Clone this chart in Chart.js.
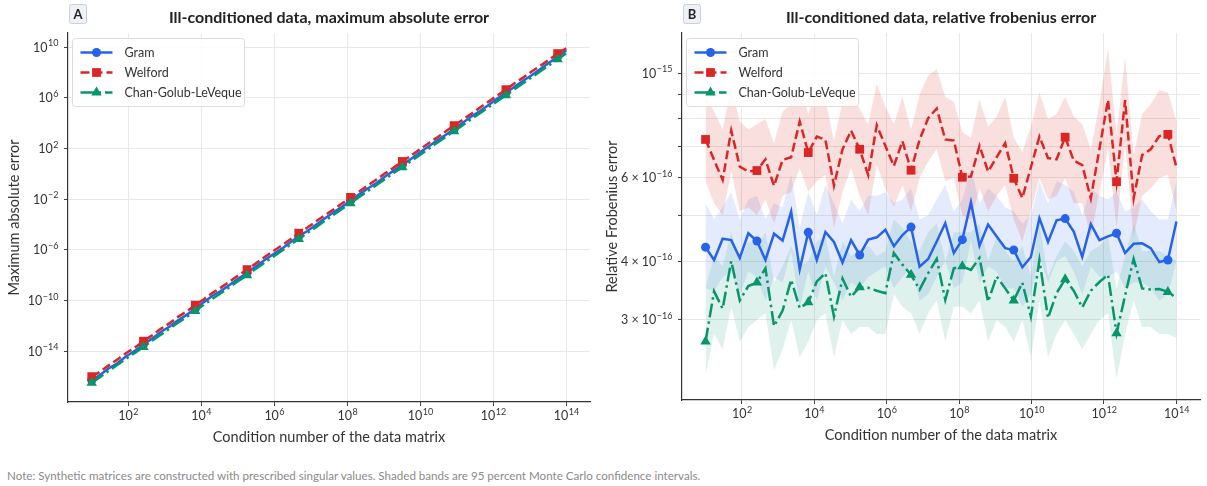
<!DOCTYPE html>
<html>
<head>
<meta charset="utf-8">
<script src="https://cdn.jsdelivr.net/npm/chart.js@4.4.1/dist/chart.umd.min.js"></script>
<style>
  body { margin: 0; background: #fff; width: 1207px; height: 486px; overflow: hidden; font-family: Lato, sans-serif; }
  #wrapA { position: absolute; left: 0; top: 0; width: 600px; height: 460px; }
  #wrapB { position: absolute; left: 600px; top: 0; width: 607px; height: 460px; }
  .note { position: absolute; left: 7px; top: 469px; font-size: 11.6px; color: #8a8a8a; }
</style>
</head>
<body>
<div id="wrapA"><canvas id="chartA"></canvas></div>
<div id="wrapB"><canvas id="chartB"></canvas></div>
<div class="note">Note: Synthetic matrices are constructed with prescribed singular values. Shaded bands are 95 percent Monte Carlo confidence intervals.</div>
<script>
// condition numbers (x, log-spaced 10^1 .. 10^14)
var condNumber = [1.00e1, 1.72e1, 2.97e1, 5.12e1, 8.82e1, 1.52e2, 2.62e2, 4.51e2, 7.78e2, 1.34e3,
  2.31e3, 3.98e3, 6.86e3, 1.18e4, 2.04e4, 3.51e4, 6.05e4, 1.04e5, 1.80e5, 3.10e5,
  5.34e5, 9.20e5, 1.58e6, 2.73e6, 4.71e6, 8.11e6, 1.40e7, 2.41e7, 4.15e7, 7.15e7,
  1.23e8, 2.12e8, 3.66e8, 6.31e8, 1.09e9, 1.87e9, 3.23e9, 5.57e9, 9.59e9, 1.65e10,
  2.85e10, 4.91e10, 8.46e10, 1.46e11, 2.51e11, 4.33e11, 7.46e11, 1.29e12, 2.22e12, 3.82e12,
  6.58e12, 1.13e13, 1.95e13, 3.37e13, 5.80e13, 1.00e14];

// panel A: maximum absolute error
var gramMaxAbs = [5.2e-17, 1.4e-16, 4.6e-16, 1.2e-15, 4.1e-15, 1.1e-14, 3.6e-14, 1.0e-13, 3.3e-13, 8.6e-13,
  2.8e-12, 7.5e-12, 2.3e-11, 7.6e-11, 2.4e-10, 5.9e-10, 1.8e-9, 5.6e-9, 1.5e-8, 5.0e-8,
  1.5e-7, 4.4e-7, 1.2e-6, 3.8e-6, 1.2e-5, 3.1e-5, 9.5e-5, 3.0e-4, 8.9e-4, 2.5e-3,
  7.4e-3, 2.4e-2, 6.9e-2, 0.19, 0.62, 1.8, 5.0, 15, 48, 140,
  420, 1150, 3500, 1.1e4, 3.3e4, 9.0e4, 2.7e5, 8.6e5, 2.4e6, 7.6e6,
  2.2e7, 6.1e7, 1.9e8, 5.9e8, 1.7e9, 5.6e9];
var welfordMaxAbs = [1.0e-16, 2.5e-16, 8.1e-16, 2.3e-15, 7.4e-15, 2.0e-14, 6.3e-14, 1.8e-13, 5.9e-13, 1.6e-12,
  5.2e-12, 1.4e-11, 4.4e-11, 1.3e-10, 4.1e-10, 1.1e-9, 3.2e-9, 1.0e-8, 2.8e-8, 8.6e-8,
  2.6e-7, 7.9e-7, 2.2e-6, 6.6e-6, 2.1e-5, 5.8e-5, 1.8e-4, 5.4e-4, 1.5e-3, 4.6e-3,
  1.4e-2, 4.0e-2, 0.12, 0.36, 1.1, 3.1, 9.5, 27, 84, 250,
  720, 2200, 6400, 1.9e4, 5.6e4, 1.7e5, 5.0e5, 1.5e6, 4.4e6, 1.4e7,
  3.9e7, 1.2e8, 3.4e8, 1.0e9, 3.1e9, 8.0e9];
var cglMaxAbs = [3.3e-17, 9.5e-17, 2.9e-16, 8.6e-16, 2.6e-15, 7.5e-15, 2.2e-14, 6.8e-14, 2.0e-13, 5.9e-13,
  1.8e-12, 5.1e-12, 1.5e-11, 4.7e-11, 1.4e-10, 4.0e-10, 1.2e-9, 3.6e-9, 1.0e-8, 3.2e-8,
  9.4e-8, 2.8e-7, 8.1e-7, 2.5e-6, 7.2e-6, 2.2e-5, 6.3e-5, 1.9e-4, 5.7e-4, 1.7e-3,
  4.9e-3, 1.5e-2, 4.4e-2, 0.13, 0.39, 1.15, 3.4, 10, 30, 89,
  270, 790, 2300, 7000, 2.1e4, 6.1e4, 1.8e5, 5.4e5, 1.6e6, 4.8e6,
  1.4e7, 4.2e7, 1.25e8, 3.7e8, 1.1e9, 3.3e9];

// panel B: relative Frobenius error, in units of 1e-16
var REL_UNIT = 1e-16;
var gramRel = [4.28, 4.02, 4.46, 4.43, 4.06, 4.58, 4.41, 4.02, 4.57, 4.42,
  5.09, 3.84, 4.60, 4.02, 4.61, 4.39, 3.97, 4.43, 4.12, 4.44,
  4.49, 4.66, 4.30, 4.54, 4.72, 3.89, 4.04, 4.40, 4.81, 4.16,
  4.44, 5.33, 4.31, 4.78, 4.51, 4.26, 4.22, 3.88, 4.08, 4.93,
  4.39, 4.88, 4.92, 4.62, 4.08, 4.79, 4.43, 4.51, 4.58, 4.16,
  4.35, 4.36, 4.26, 3.98, 4.02, 4.85];
var gramRelHi = [5.3, 4.9, 5.2, 5.6, 4.9, 5.4, 5.5, 4.9, 5.3, 5.2,
  6.1, 4.7, 5.6, 5.0, 5.8, 5.3, 4.8, 5.4, 5.1, 5.5,
  5.5, 5.6, 5.3, 5.4, 5.7, 4.9, 5.0, 5.4, 5.8, 5.1,
  5.4, 6.3, 5.3, 5.7, 5.5, 5.2, 5.1, 4.8, 5.0, 5.9,
  5.3, 5.9, 5.8, 5.6, 5.0, 5.7, 5.5, 5.4, 5.6, 5.1,
  5.2, 5.4, 5.1, 4.9, 4.9, 5.9];
var gramRelLo = [3.5, 3.45, 3.7, 3.8, 3.4, 3.8, 3.7, 3.3, 3.7, 3.6,
  4.2, 3.2, 3.8, 3.3, 3.9, 3.6, 3.3, 3.6, 3.5, 3.7,
  3.8, 3.9, 3.5, 3.7, 3.9, 3.3, 3.4, 3.7, 4.0, 3.5,
  3.6, 4.4, 3.6, 3.9, 3.8, 3.5, 3.5, 3.2, 3.4, 4.1,
  3.6, 4.0, 4.1, 3.8, 3.4, 3.9, 3.7, 3.7, 3.8, 3.5,
  3.6, 3.6, 3.5, 3.3, 3.4, 4.0];
var welfordRel = [7.24, 6.55, 5.94, 7.56, 6.34, 6.19, 6.22, 6.57, 5.77, 6.55,
  6.64, 7.90, 6.79, 7.34, 7.23, 5.78, 6.90, 7.56, 6.90, 6.08,
  7.76, 7.02, 6.36, 7.18, 6.23, 7.23, 8.03, 8.42, 7.24, 7.20,
  6.02, 6.04, 7.02, 6.19, 6.64, 7.11, 5.99, 5.44, 6.32, 7.34,
  6.61, 6.57, 7.32, 6.53, 6.39, 5.43, 6.90, 8.78, 5.89, 8.77,
  5.43, 6.71, 6.90, 7.36, 7.42, 6.32];
var welfordRelHi = [9.0, 8.3, 7.6, 9.4, 7.9, 7.6, 7.8, 8.0, 7.1, 8.3,
  8.6, 9.6, 8.2, 9.1, 8.8, 7.2, 8.7, 9.2, 8.4, 7.8,
  9.5, 8.5, 7.8, 8.9, 7.6, 9.0, 9.9, 10.2, 8.9, 8.7,
  7.5, 7.3, 8.8, 7.7, 8.1, 8.9, 7.3, 6.8, 7.7, 9.1,
  8.0, 8.2, 8.9, 8.1, 7.8, 6.9, 8.6, 11.3, 7.4, 10.8,
  6.7, 8.2, 8.6, 9.2, 9.1, 7.9];
var welfordRelLo = [5.9, 5.3, 5.0, 6.2, 5.1, 5.2, 5.0, 5.4, 4.8, 5.5,
  5.6, 6.3, 5.6, 5.9, 6.1, 4.7, 5.6, 6.3, 5.5, 5.0,
  6.4, 5.7, 5.2, 5.8, 5.1, 6.0, 6.5, 6.9, 5.9, 6.0,
  5.0, 4.9, 5.7, 5.1, 5.5, 5.8, 4.9, 4.4, 5.1, 6.0,
  5.4, 5.5, 6.0, 5.3, 5.3, 4.5, 5.6, 6.9, 4.7, 7.1,
  4.5, 5.5, 5.7, 6.0, 6.1, 5.1];
var cglRel = [2.70, 3.45, 3.17, 4.00, 3.30, 3.54, 3.60, 3.86, 2.91, 3.14,
  3.65, 3.18, 3.27, 3.62, 3.77, 3.05, 3.67, 3.36, 3.52, 3.51,
  3.46, 3.42, 4.16, 3.93, 3.74, 3.48, 3.77, 4.04, 3.31, 3.86,
  3.90, 3.83, 4.06, 3.28, 3.71, 3.50, 3.30, 3.60, 3.05, 4.02,
  3.03, 3.42, 3.66, 3.46, 3.19, 3.46, 3.61, 3.74, 2.81, 3.38,
  4.04, 3.50, 3.48, 3.49, 3.44, 3.34];
var cglRelHi = [3.5, 4.1, 3.9, 4.6, 4.0, 4.4, 4.3, 4.6, 3.6, 3.9,
  4.3, 3.9, 4.0, 4.4, 4.5, 3.7, 4.4, 4.1, 4.2, 4.3,
  4.1, 4.2, 4.9, 4.7, 4.4, 4.2, 4.6, 4.8, 4.0, 4.6,
  4.6, 4.6, 4.8, 4.0, 4.5, 4.2, 4.0, 4.3, 3.7, 4.8,
  3.7, 4.1, 4.4, 4.2, 3.9, 4.2, 4.3, 4.5, 3.5, 4.1,
  4.8, 4.2, 4.2, 4.2, 4.1, 4.0];
var cglRelLo = [2.3, 2.8, 2.6, 3.2, 2.7, 2.9, 3.0, 3.1, 2.35, 2.6,
  3.0, 2.5, 2.7, 3.0, 3.1, 2.5, 3.0, 2.8, 2.9, 2.9,
  2.8, 2.8, 3.4, 3.2, 3.1, 2.8, 3.1, 3.3, 2.7, 3.2,
  3.2, 3.1, 3.3, 2.7, 3.0, 2.9, 2.7, 3.0, 2.5, 3.3,
  2.5, 2.8, 3.0, 2.8, 2.6, 2.8, 3.0, 3.1, 2.25, 2.8,
  3.3, 2.9, 2.9, 2.8, 2.8, 2.75];

// tick positions and labels
var xTickExps = [2, 4, 6, 8, 10, 12, 14];
var maxAbsTickExps = [-14, -10, -6, -2, 2, 6, 10];
var relTicks = [3, 4, 5, 6, 7, 8, 9, 10];        // x 1e-16
var relTickMant = ['3 × ', '4 × ', '', '6 × ', '', '', '', ''];
var relTickExp = ['−16', '−16', '', '−16', '', '', '', '−15'];

var FONT = 'Lato, "Noto Sans", sans-serif';
var TEXT = '#333';

var series = [
  { label: 'Gram', color: '#2563eb', band: 'rgba(37,99,235,0.13)', dash: [], point: 'circle', r: 4.5 },
  { label: 'Welford', color: '#dc2626', band: 'rgba(220,38,38,0.15)', dash: [9, 4], point: 'rect', r: 6.2 },
  { label: 'Chan-Golub-LeVeque', color: '#059669', band: 'rgba(5,150,105,0.13)', dash: [14, 4, 2.5, 4], point: 'triangle', r: 6 }
];

function expText(e) { return String(e).replace('-', '−'); }

function pts(xs, ys, unit) {
  return xs.map(function(x, i) { return { x: x, y: ys[i] * (unit || 1) }; });
}

function lineDataset(s, data, order) {
  return {
    label: s.label, data: data, order: order,
    borderColor: s.color, backgroundColor: s.color,
    borderWidth: 2.5, borderDash: s.dash, fill: false, tension: 0,
    pointStyle: s.point,
    pointRadius: function(c) { return c.dataIndex % 6 === 0 ? s.r : 0; },
    pointBorderWidth: 0, pointHoverRadius: 0
  };
}

function bandDatasets(s, hi, lo, order) {
  return [
    { data: pts(condNumber, hi, REL_UNIT), order: order, fill: '+1', backgroundColor: s.band,
      borderWidth: 0, pointRadius: 0, tension: 0 },
    { data: pts(condNumber, lo, REL_UNIT), order: order, fill: false,
      borderWidth: 0, pointRadius: 0, tension: 0 }
  ];
}

// "m × 10^e" tick labels with a real raised exponent
function drawPowLabels(ctx, scale, items, horizontal, area) {
  ctx.fillStyle = TEXT;
  ctx.textAlign = 'left';
  ctx.textBaseline = 'alphabetic';
  items.forEach(function(it) {
    if (!it.exp) return;
    var p = scale.getPixelForValue(it.value);
    var base = it.mant + '10';
    ctx.font = '12.5px ' + FONT;
    var wb = ctx.measureText(base).width;
    ctx.font = '9px ' + FONT;
    var we = ctx.measureText(it.exp).width;
    var x0, yb;
    if (horizontal) { x0 = p - (wb + we) / 2; yb = area.bottom + 18; }
    else { x0 = area.left - 10 - wb - we; yb = p + 4.5; }
    ctx.font = '12.5px ' + FONT;
    ctx.fillText(base, x0, yb);
    ctx.font = '9px ' + FONT;
    ctx.fillText(it.exp, x0 + wb + 0.5, yb - 5.5);
  });
}

// badge, title, legend and tick labels
var decor = {
  id: 'decor',
  afterDraw: function(chart, args, opts) {
    var ctx = chart.ctx, area = chart.chartArea;
    ctx.save();
    drawPowLabels(ctx, chart.scales.x, opts.xLabels, true, area);
    drawPowLabels(ctx, chart.scales.y, opts.yLabels, false, area);
    // panel letter
    ctx.fillStyle = '#eef1f6';
    ctx.strokeStyle = '#c8d0dc';
    ctx.lineWidth = 1;
    ctx.beginPath();
    ctx.roundRect(area.left + 1.5, 4.5, 17, 19, 2);
    ctx.fill(); ctx.stroke();
    ctx.fillStyle = '#222';
    ctx.font = 'bold 13px ' + FONT;
    ctx.textAlign = 'center';
    ctx.textBaseline = 'middle';
    ctx.fillText(opts.badge, area.left + 10, 14.5);
    // title
    ctx.font = 'bold 16px ' + FONT;
    ctx.fillText(opts.title, (area.left + area.right) / 2, 18);
    // legend
    var bx = area.left + 4.5, by = 38.5;
    ctx.fillStyle = 'rgba(255,255,255,0.85)';
    ctx.strokeStyle = '#dcdcdc';
    ctx.beginPath();
    ctx.roundRect(bx, by, 172, 68, 3);
    ctx.fill(); ctx.stroke();
    ctx.textAlign = 'left';
    ctx.font = '12.5px ' + FONT;
    series.forEach(function(s, i) {
      var y = by + 14 + i * 20;
      ctx.strokeStyle = s.color;
      ctx.lineWidth = 2.5;
      ctx.setLineDash(s.dash);
      ctx.beginPath();
      ctx.moveTo(bx + 8, y);
      ctx.lineTo(bx + 40, y);
      ctx.stroke();
      ctx.setLineDash([]);
      ctx.fillStyle = s.color;
      Chart.helpers.drawPoint(ctx, { pointStyle: s.point, rotation: 0, radius: s.r, borderWidth: 0 }, bx + 24, y);
      ctx.fillStyle = TEXT;
      ctx.fillText(s.label, bx + 52, y);
    });
    ctx.restore();
  }
};

var xLabelItems = xTickExps.map(function(e) { return { value: Math.pow(10, e), mant: '', exp: expText(e) }; });

function xScale(h, titleBottom) {
  return {
    type: 'logarithmic', min: 2.24, max: 4.47e14, bounds: 'data',
    afterBuildTicks: function(sc) { sc.ticks = xTickExps.map(function(e) { return { value: Math.pow(10, e) }; }); },
    afterFit: function(sc) { sc.height = h; },
    ticks: { display: false, autoSkip: false },
    grid: { color: '#e8e8e8', tickColor: '#444', tickLength: 4 },
    border: { color: '#333', width: 1.2 },
    title: { display: true, text: 'Condition number of the data matrix', color: TEXT,
      font: { family: FONT, size: 14.5 }, padding: { top: 2, bottom: titleBottom } }
  };
}

new Chart(document.getElementById('chartA'), {
  type: 'line',
  data: {
    datasets: [
      lineDataset(series[0], pts(condNumber, gramMaxAbs), 3),
      lineDataset(series[1], pts(condNumber, welfordMaxAbs), 2),
      lineDataset(series[2], pts(condNumber, cglMaxAbs), 1)
    ]
  },
  options: {
    responsive: true, maintainAspectRatio: false, animation: false, events: [],
    layout: { padding: { left: 0, right: 10, top: 33, bottom: 0 } },
    plugins: { legend: { display: false }, tooltip: { enabled: false },
      decor: { badge: 'A', title: 'Ill-conditioned data, maximum absolute error',
        xLabels: xLabelItems,
        yLabels: maxAbsTickExps.map(function(e) { return { value: Math.pow(10, e), mant: '', exp: expText(e) }; }) } },
    scales: {
      x: xScale(58, 14),
      y: {
        type: 'logarithmic', min: 1.0e-18, max: 1.3e11, bounds: 'data',
        afterBuildTicks: function(sc) { sc.ticks = maxAbsTickExps.map(function(e) { return { value: Math.pow(10, e) }; }); },
        afterFit: function(sc) { sc.width = 68; },
        ticks: { display: false, autoSkip: false },
        grid: { color: '#e8e8e8', tickColor: '#444', tickLength: 4 },
        border: { color: '#333', width: 1.2 },
        title: { display: true, text: 'Maximum absolute error', color: TEXT,
          font: { family: FONT, size: 14.5 }, padding: { top: 6, bottom: 0 } }
      }
    }
  },
  plugins: [decor]
});

new Chart(document.getElementById('chartB'), {
  type: 'line',
  data: {
    datasets: [].concat(
      bandDatasets(series[0], gramRelHi, gramRelLo, 13),
      bandDatasets(series[1], welfordRelHi, welfordRelLo, 12),
      bandDatasets(series[2], cglRelHi, cglRelLo, 11),
      [
        lineDataset(series[0], pts(condNumber, gramRel, REL_UNIT), 3),
        lineDataset(series[1], pts(condNumber, welfordRel, REL_UNIT), 2),
        lineDataset(series[2], pts(condNumber, cglRel, REL_UNIT), 1)
      ])
  },
  options: {
    responsive: true, maintainAspectRatio: false, animation: false, events: [],
    layout: { padding: { left: 0, right: 7, top: 33, bottom: 0 } },
    plugins: { legend: { display: false }, tooltip: { enabled: false },
      decor: { badge: 'B', title: 'Ill-conditioned data, relative frobenius error',
        xLabels: xLabelItems,
        yLabels: relTicks.map(function(v, i) { return { value: v * REL_UNIT, mant: relTickMant[i], exp: relTickExp[i] }; }) } },
    scales: {
      x: xScale(60, 16),
      y: {
        type: 'logarithmic', min: 2.03e-16, max: 1.217e-15, bounds: 'data',
        afterBuildTicks: function(sc) { sc.ticks = relTicks.map(function(v) { return { value: v * REL_UNIT }; }); },
        afterFit: function(sc) { sc.width = 82; },
        ticks: { display: false, autoSkip: false },
        grid: { color: '#e8e8e8', tickColor: '#444', tickLength: 4 },
        border: { color: '#333', width: 1.2 },
        title: { display: true, text: 'Relative Frobenius error', color: TEXT,
          font: { family: FONT, size: 14.5 }, padding: { top: 4, bottom: 0 } }
      }
    }
  },
  plugins: [decor]
});
</script>
</body>
</html>
